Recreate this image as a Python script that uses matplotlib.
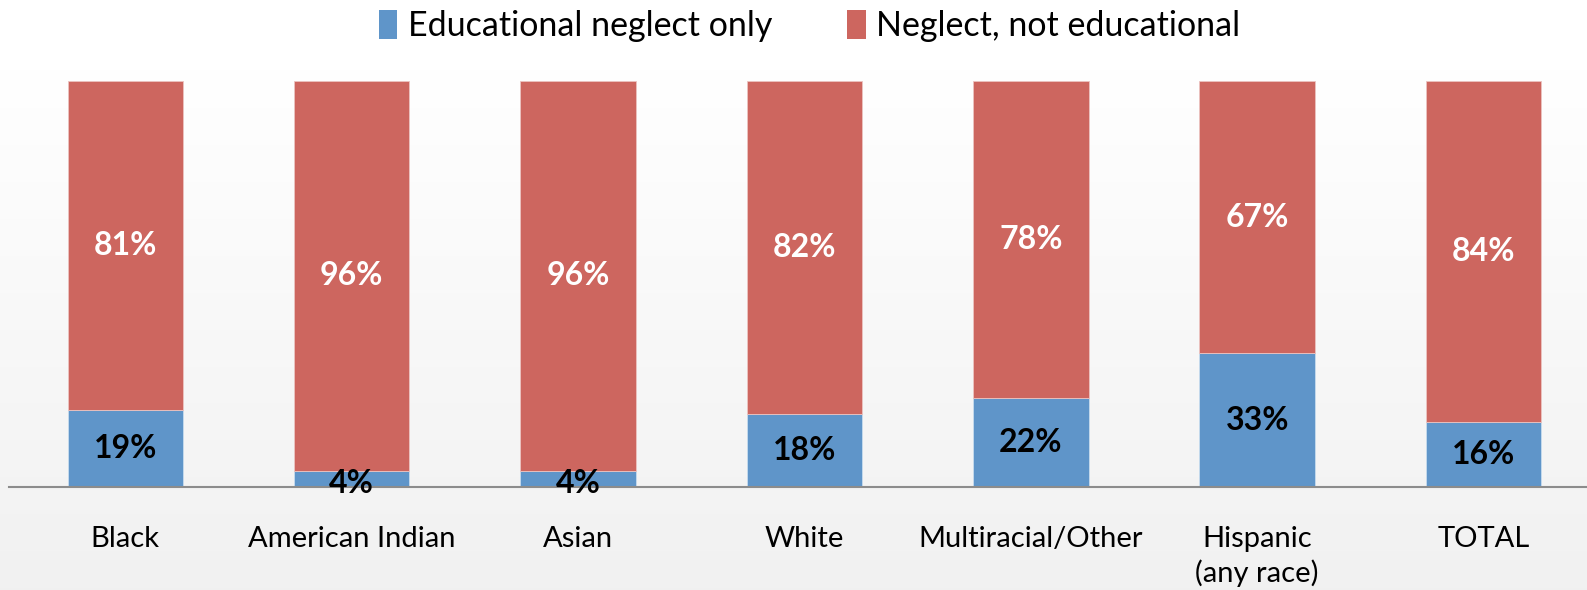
import numpy as np
import matplotlib
matplotlib.use('Agg')
import matplotlib.pyplot as plt
from matplotlib.patches import Patch

plt.rcParams['font.family'] = ['Lato', 'DejaVu Sans']

categories = ['Black', 'American Indian', 'Asian', 'White',
              'Multiracial/Other', 'Hispanic\n(any race)', 'TOTAL']
edu_only = [19, 4, 4, 18, 22, 33, 16]
not_edu = [81, 96, 96, 82, 78, 67, 84]
series_names = ['Educational neglect only', 'Neglect, not educational']

blue = '#5F95C9'
red = '#CD665F'

W, H = 1587, 590
fig = plt.figure(figsize=(W / 100, H / 100), dpi=100)

# background gradient, white at top to light gray at bottom
bg = fig.add_axes([0, 0, 1, 1], zorder=-10)
grad = np.linspace(0, 1, 256)
shade = np.clip((grad - 0.12) / 0.88, 0, 1)
col = 1.0 - 0.055 * shade
img = np.dstack([col, col, col])[:, None, :].reshape(256, 1, 3)
bg.imshow(img, aspect='auto', extent=[0, 1, 0, 1], origin='upper')
bg.axis('off')

left, right = 9 / W, 1.0
bottom, top = 1 - 487 / H, 1 - 81 / H
ax = fig.add_axes([left, bottom, right - left, top - bottom])
ax.patch.set_alpha(0)

x = np.arange(len(categories))
bw = 0.51
b1 = ax.bar(x, edu_only, bw, color=blue, edgecolor='#c8dcee', linewidth=0.6)
b2 = ax.bar(x, not_edu, bw, bottom=edu_only, color=red, edgecolor='#ecc4c1', linewidth=0.6)

for i in range(len(x)):
    ax.text(x[i], edu_only[i] / 2 - (1.2 if edu_only[i] < 8 else 0), f'{edu_only[i]}%',
            ha='center', va='center', fontsize=23, fontweight='bold', color='black')
    ax.text(x[i], edu_only[i] + not_edu[i] / 2, f'{not_edu[i]}%',
            ha='center', va='center', fontsize=23, fontweight='bold', color='white')

ax.set_xlim(-0.514, 6.457)
ax.set_ylim(0, 100)
ax.set_yticks([])
ax.set_xticks(x)
ax.set_xticklabels(categories, fontsize=21, linespacing=1.35)
ax.tick_params(axis='x', length=0, pad=28)
for s in ['top', 'right', 'left']:
    ax.spines[s].set_visible(False)
ax.spines['bottom'].set_color('#8c8c8c')
ax.spines['bottom'].set_linewidth(1.5)

handles = [Patch(facecolor=blue), Patch(facecolor=red)]
fig.legend(handles, series_names, loc='upper center', bbox_to_anchor=(0.51, 1.035),
           ncol=2, frameon=False, fontsize=24.5, handlelength=0.55, handleheight=0.95,
           handletextpad=0.3, columnspacing=2.2)

fig.savefig('out.png', dpi=100)
